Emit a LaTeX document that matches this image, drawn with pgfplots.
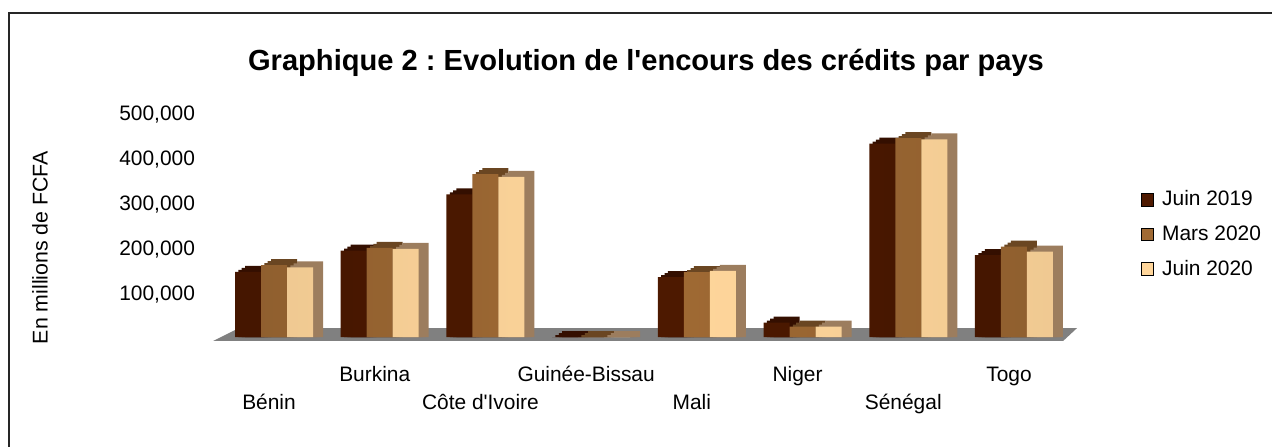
\documentclass[border=0pt]{standalone}
\usepackage{fontspec}
\setmainfont{Liberation Sans}
\usepackage{pgfplots}
\pgfplotsset{compat=1.18}
\usepackage{pgfplotstable}
\frenchspacing

\definecolor{cA}{RGB}{78,25,0}
\definecolor{cAd}{RGB}{52,15,0}
\definecolor{cB}{RGB}{160,106,52}
\definecolor{cBd}{RGB}{106,70,34}
\definecolor{cC}{RGB}{255,214,155}
\definecolor{cCd}{RGB}{156,125,94}
\definecolor{floorgray}{RGB}{128,128,128}

\pgfplotstableread{
x a b c
0 145000 160000 155000
1 192000 198000 196000
2 317000 362000 356000
3 0 0 0
4 133000 144000 147000
5 32000 23000 23000
6 430000 442000 439000
7 182000 201000 190000
}\data

\begin{document}
\begin{tikzpicture}
\useasboundingbox (0,0) rectangle (636bp,223.5bp);
\draw[line width=0.75bp, black!85] (4.5bp,0) -- (4.5bp,217bp) -- (636bp,217bp);
\node[font=\fontsize{14.6}{16}\selectfont\bfseries] at (323bp,192.3bp) {Graphique 2 : Evolution de l\textquotesingle encours des crédits par pays};
\node[rotate=90, font=\fontsize{10.7}{12}\selectfont] at (20bp,99.75bp) {En millions de FCFA};
\begin{axis}[
  at={(105.3bp,55bp)}, anchor=south west,
  scale only axis, width=433.4bp, height=112.5bp,
  xmin=-0.6, xmax=7.6, ymin=0, ymax=500000,
  clip=false,
  axis line style={draw=none},
  tick style={draw=none},
  major tick length=0pt,
  ytick={100000,200000,300000,400000,500000},
  scaled y ticks=false,
  yticklabel style={/pgf/number format/.cd, fixed, 1000 sep={,}, assume math mode=true, /tikz/.cd, font=\fontsize{10.5}{12}\selectfont, anchor=east, xshift=-4.3bp, yshift=-1.5bp},
  xtick={0,2,4,6},
  xticklabels={Bénin, Côte d\textquotesingle Ivoire, Mali, Sénégal},
  extra x ticks={1,3,5,7},
  extra x tick labels={Burkina, Guinée-Bissau, Niger, Togo},
  xticklabel style={font=\fontsize{10.5}{12}\selectfont, anchor=base, yshift=-36.3bp, xshift=-2.5bp},
  extra x tick style={xticklabel style={yshift=14.3bp}},
  legend image code/.code={\fill[#1] (0bp,-3.2bp) rectangle (6.4bp,3.2bp);},
  legend style={draw=none, fill=none, at={(1.0724,0.662)}, anchor=north west, inner sep=0pt, row sep=6.5bp, column sep=3bp, font=\fontsize{10.5}{12}\selectfont, nodes={inner sep=1bp}},
  legend cell align=left,
]
% floor
\fill[floorgray] (axis cs:-0.577,-8889) -- (axis cs:7.465,-8889) -- (axis cs:7.597,20000) -- (axis cs:-0.33,20000) -- cycle;
% depth (top and side faces), stepped to suggest slanted faces
\addplot[ybar, bar width=0.246, bar shift=-0.1514, fill=cAd, draw=none, forget plot] table[x=x, y expr=\thisrow{a}+13300] {\data};
\addplot[ybar, bar width=0.246, bar shift=-0.1829, fill=cAd, draw=none, forget plot] table[x=x, y expr=\thisrow{a}+8867] {\data};
\addplot[ybar, bar width=0.246, bar shift=-0.2145, fill=cAd, draw=none, forget plot] table[x=x, y expr=\thisrow{a}+4433] {\data};
\addplot[ybar, bar width=0.246, bar shift=0.0946, fill=cBd, draw=none, forget plot] table[x=x, y expr=\thisrow{b}+13300] {\data};
\addplot[ybar, bar width=0.246, bar shift=0.0631, fill=cBd, draw=none, forget plot] table[x=x, y expr=\thisrow{b}+8867] {\data};
\addplot[ybar, bar width=0.246, bar shift=0.0315, fill=cBd, draw=none, forget plot] table[x=x, y expr=\thisrow{b}+4433] {\data};
\addplot[ybar, bar width=0.246, bar shift=0.3406, fill=cCd, draw=none, forget plot] table[x=x, y expr=\thisrow{c}+13300] {\data};
\addplot[ybar, bar width=0.246, bar shift=0.3091, fill=cCd, draw=none, forget plot] table[x=x, y expr=\thisrow{c}+8867] {\data};
\addplot[ybar, bar width=0.246, bar shift=0.2775, fill=cCd, draw=none, forget plot] table[x=x, y expr=\thisrow{c}+4433] {\data};
% front faces
\addplot[ybar, bar width=0.246, bar shift=-0.246, draw=none, left color=cA!88!black, right color=cA!88!black, middle color=cA, forget plot] table[x=x, y=a] {\data};
\addplot[ybar, bar width=0.246, bar shift=0, draw=none, left color=cB!90!black, right color=cB!90!black, middle color=cB, forget plot] table[x=x, y=b] {\data};
\addplot[ybar, bar width=0.246, bar shift=0.246, draw=none, left color=cC!94!black, right color=cC!94!black, middle color=cC, forget plot] table[x=x, y=c] {\data};
\addlegendimage{fill=cA}
\addlegendimage{fill=cB}
\addlegendimage{fill=cC}
\legend{Juin 2019, Mars 2020, Juin 2020}
\end{axis}
\end{tikzpicture}
\end{document}
